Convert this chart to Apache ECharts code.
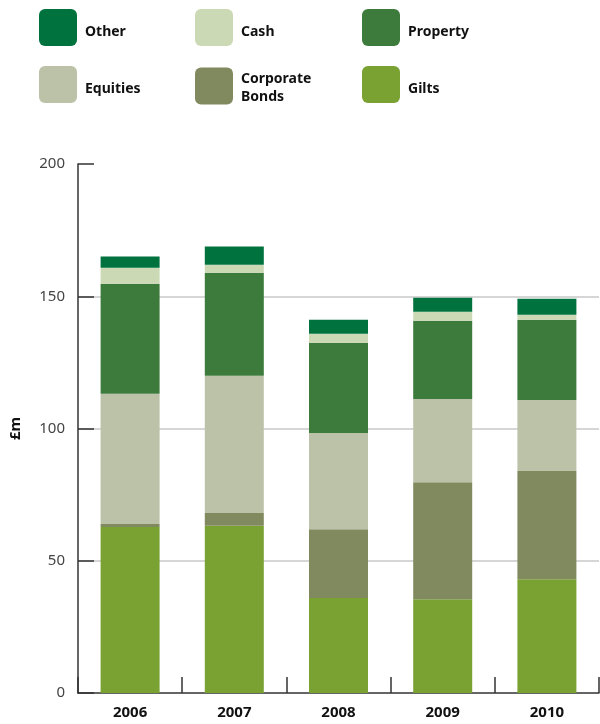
<!DOCTYPE html>
<html>
<head>
<meta charset="utf-8">
<script src="https://cdn.jsdelivr.net/npm/echarts@6/dist/echarts.min.js"></script>
<style>
  html, body { margin: 0; padding: 0; background: #fff; }
  #chart { width: 600px; height: 724px; }
</style>
</head>
<body>
<div id="chart"></div>
<script>
// Pension fund assets by class, £m
const years = ['2006', '2007', '2008', '2009', '2010'];
const gilts = [62.8, 63.2, 35.9, 35.4, 43.0];
const corporateBonds = [1.1, 4.9, 26.0, 44.3, 40.9];
const equities = [49.2, 51.8, 36.4, 31.5, 26.9];
const property = [41.6, 39.0, 34.1, 29.5, 30.3];
const cash = [6.1, 3.0, 3.4, 3.4, 1.9];
const other = [4.2, 6.9, 5.3, 5.3, 6.1];
const yTicks = { min: 0, max: 200, interval: 50 };

const FONT = '"Noto Sans", "Open Sans", sans-serif';
const colors = {
  'Gilts': '#79a233',
  'Corporate Bonds': '#818a5f',
  'Equities': '#bbc2a7',
  'Property': '#3d7b3c',
  'Cash': '#cbdab4',
  'Other': '#00723e'
};

// rounded square legend swatch
const swatch = 'path://M6,0 H32 A6,6 0 0 1 38,6 V31 A6,6 0 0 1 32,37 H6 A6,6 0 0 1 0,31 V6 A6,6 0 0 1 6,0 Z';

function legendLabel(name) {
  return name === 'Corporate Bonds' ? '{first|Corporate}\n{second|Bonds}' : '{one|' + name + '}';
}

function legendColumn(left, names) {
  const base = { fontFamily: FONT, fontSize: 14, fontWeight: 'bold', color: '#111' };
  return {
    orient: 'vertical',
    left: left,
    top: 9,
    padding: 0,
    itemWidth: 38,
    itemHeight: 37,
    itemGap: 20,
    icon: swatch,
    selectedMode: false,
    data: names,
    formatter: legendLabel,
    textStyle: Object.assign({}, base, {
      rich: {
        one: Object.assign({}, base, { lineHeight: 20, padding: [9, 0, 0, 3] }),
        first: Object.assign({}, base, { lineHeight: 20, padding: [6, 0, 0, 3] }),
        second: Object.assign({}, base, { lineHeight: 20, padding: [3, 0, 0, 3] })
      }
    })
  };
}

function barSeries(name, values) {
  return {
    name: name,
    type: 'bar',
    stack: 'assets',
    barWidth: 59,
    data: values,
    itemStyle: { color: colors[name] },
    emphasis: { disabled: true }
  };
}

const chart = echarts.init(document.getElementById('chart'), null, { renderer: 'canvas' });
chart.setOption({
  animation: false,
  legend: [
    legendColumn(39, ['Other', 'Equities']),
    legendColumn(195, ['Cash', 'Corporate Bonds']),
    legendColumn(362, ['Property', 'Gilts'])
  ],
  grid: { left: 78, right: 1, top: 164, bottom: 31, containLabel: false, outerBoundsMode: 'none' },
  xAxis: {
    type: 'category',
    data: years,
    boundaryGap: true,
    axisLine: { show: true, lineStyle: { color: '#333', width: 1.5 } },
    axisTick: { show: true, inside: true, length: 16, interval: 0, lineStyle: { color: '#333', width: 1.5 } },
    axisLabel: { margin: 12, fontFamily: FONT, fontSize: 15, fontWeight: 'bold', color: '#111' }
  },
  yAxis: {
    type: 'value',
    min: yTicks.min,
    max: yTicks.max,
    interval: yTicks.interval,
    name: '£m',
    nameLocation: 'middle',
    nameGap: 55,
    nameRotate: 90,
    nameTextStyle: { fontFamily: FONT, fontSize: 15, fontWeight: 'bold', color: '#111' },
    axisLine: { show: true, lineStyle: { color: '#333', width: 1.5 } },
    axisTick: { show: true, inside: true, length: 16, lineStyle: { color: '#333', width: 1.5 } },
    axisLabel: { margin: 13, fontFamily: FONT, fontSize: 15, color: '#444' },
    splitLine: { show: true, showMinLine: false, showMaxLine: false, lineStyle: { color: '#c8c8c8', width: 1.5 } }
  },
  series: [
    barSeries('Gilts', gilts),
    barSeries('Corporate Bonds', corporateBonds),
    barSeries('Equities', equities),
    barSeries('Property', property),
    barSeries('Cash', cash),
    barSeries('Other', other)
  ]
});
</script>
</body>
</html>
